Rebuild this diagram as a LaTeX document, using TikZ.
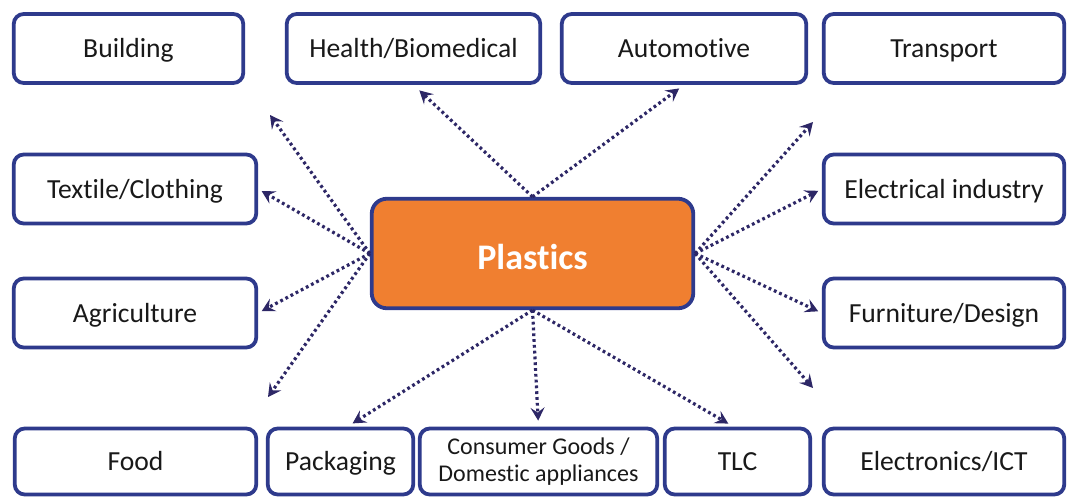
\documentclass[tikz,border=0pt]{standalone}
\usepackage{fontspec}
\setmainfont{Carlito}[Ligatures=NoCommon]
\usepackage{xcolor}
\usetikzlibrary{
    arrows.meta,
    calc,
    positioning
}
\definecolor{boxblue}{HTML}{2E3A8C}
\definecolor{plasticorange}{HTML}{F07F30}
\definecolor{dotpurple}{HTML}{2D2766}
\tikzset{
    sector/.style={draw=boxblue, line width=1.9pt, rounded corners=5pt, fill=white, inner sep=0pt,
        align=center, minimum height=34.5pt, text=black!90, font=\fontsize{13.8}{15}\selectfont,
        text height=9.4pt, text depth=0pt},
    usage/.style={draw=dotpurple, line width=1.6pt, dash pattern=on 1.4pt off 1.5pt,
        -{Stealth[length=6.5pt,width=7pt,inset=2.5pt]}}
}

\begin{document}
\begin{tikzpicture}[x=0.5pt, y=-0.5pt]
    \useasboundingbox (0, 0) rectangle (1069, 498);
    \node[sector, minimum width=114.75pt] (building) at (128.5, 48.5) {Building};
    \node[sector, minimum width=126.75pt] (health) at (413.5, 48.5) {Health/Biomedical};
    \node[sector, minimum width=122.25pt] (auto) at (684, 48.5) {Automotive};
    \node[sector, minimum width=120.25pt] (transport) at (944, 48.5) {Transport};
    \node[sector, minimum width=121.25pt] (textile) at (135, 189) {Textile/Clothing};
    \node[sector, minimum width=121.25pt] (agri) at (135, 313) {Agriculture};
    \node[sector, minimum width=120.25pt] (elec) at (944, 189) {Electrical industry};
    \node[sector, minimum width=120.25pt] (furn) at (944, 313) {Furniture/Design};
    \node[sector, minimum width=120.75pt, minimum height=33pt] (food) at (135.5, 461.5) {Food};
    \node[sector, minimum width=72.75pt, minimum height=33pt] (pack) at (340.5, 461.5) {Packaging};
    \node[sector, minimum width=118.75pt, minimum height=33pt, text height=, text depth=,
        font=\fontsize{12}{13.5}\selectfont] (consumer) at (538.5, 461.5) {Consumer Goods /\\Domestic appliances};
    \node[sector, minimum width=72.75pt, minimum height=33pt] (tlc) at (737.5, 461.5) {TLC};
    \node[sector, minimum width=120.25pt, minimum height=33pt] (ict) at (944, 461.5) {Electronics/ICT};
    \node[sector, fill=plasticorange, rounded corners=7.5pt, minimum width=160.75pt, minimum height=54.75pt,
        text=white, text height=15.5pt, font=\fontsize{18}{20}\bfseries] (plastics) at (532.5, 253.5) {Plastics};
    \coordinate (toBuilding) at (270, 115);
    \coordinate (toTransport) at (813, 122);
    \coordinate (toFood) at (268, 397);
    \coordinate (toICT) at (813, 388);
    \draw[usage] (plastics.west) -- (toBuilding);
    \draw[usage, shorten >=2pt] (plastics.west) -- (textile.east);
    \draw[usage, shorten >=2pt] (plastics.west) -- (agri.east);
    \draw[usage] (plastics.west) -- (toFood);
    \draw[usage, shorten >=4pt] (plastics.north) -- (health.south);
    \draw[usage, shorten >=3pt] (plastics.north) -- (auto.south);
    \draw[usage] (plastics.east) -- (toTransport);
    \draw[usage, shorten >=2pt] (plastics.east) -- (elec.west);
    \draw[usage, shorten >=2pt] (plastics.east) -- (furn.west);
    \draw[usage] (plastics.east) -- (toICT);
    \draw[usage, shorten >=3pt] (plastics.south) -- ([xshift=3.5pt]pack.north);
    \draw[usage, shorten >=3pt] (plastics.south) -- (consumer.north);
    \draw[usage, shorten >=3pt] (plastics.south) -- ([xshift=-2pt]tlc.north);
\end{tikzpicture}
\end{document}
